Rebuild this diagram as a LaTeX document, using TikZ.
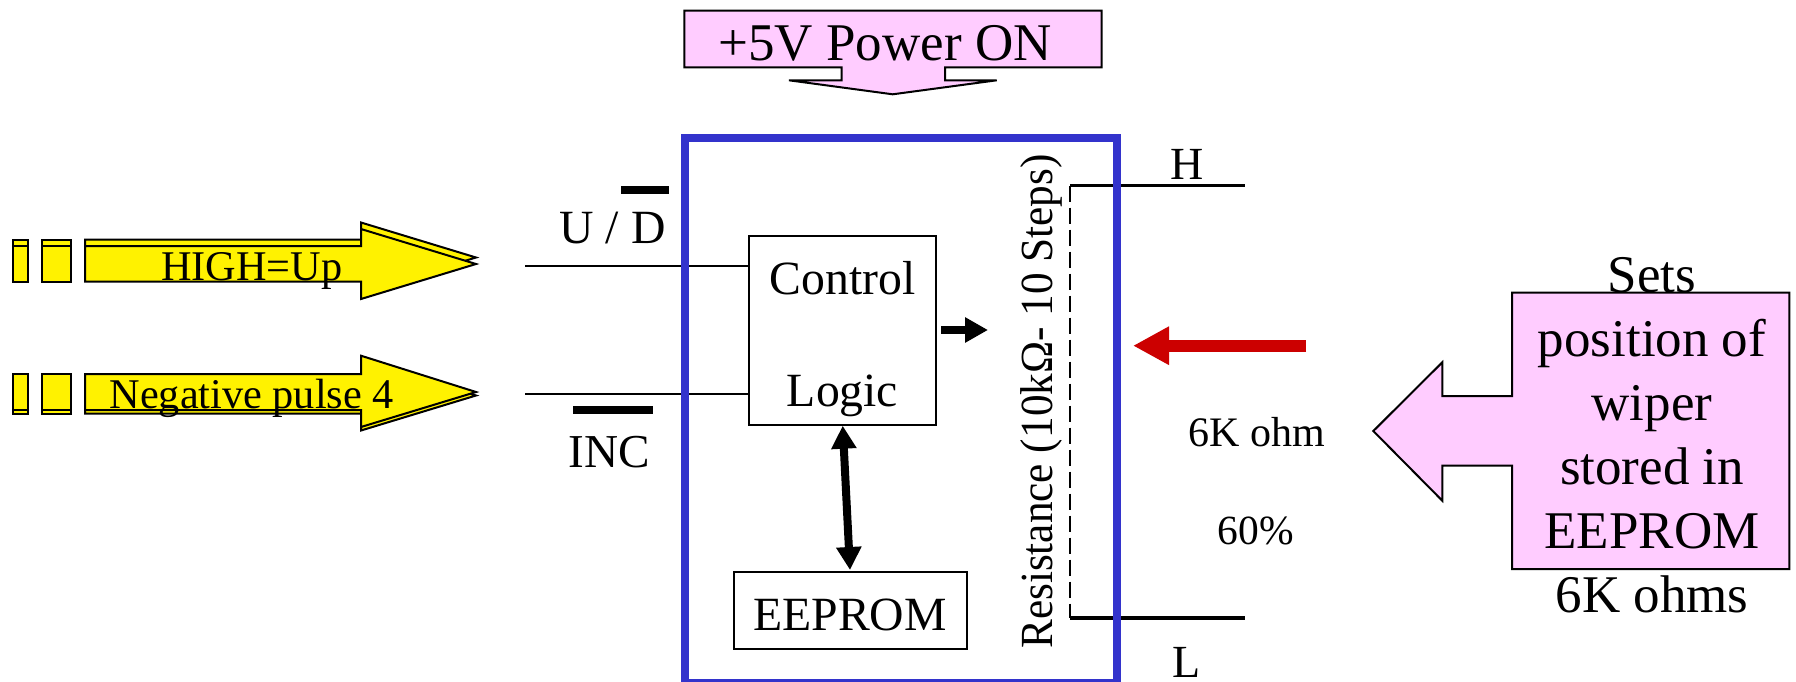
\documentclass[tikz,border=0pt]{standalone}
\usepackage{fontspec}
\setmainfont{Liberation Serif}
\usetikzlibrary{arrows.meta}
\newcommand{\fsz}[1]{\fontsize{#1}{#1}\selectfont}
\definecolor{pinkfill}{HTML}{FFCCFF}
\definecolor{bluebox}{HTML}{3333CC}
\definecolor{redarrow}{HTML}{CC0000}
\tikzset{
  txt/.style={anchor=base,inner sep=0pt,outer sep=0pt,text=black},
  yel/.style={draw=black,fill=yellow,line width=2pt,line join=miter},
  pinkshape/.style={draw=black,fill=pinkfill,line width=2pt,line join=miter},
  blockbox/.style={draw=black,line width=2pt,inner sep=0pt,outer sep=0pt,fill=white},
  wire/.style={draw=black,line width=2pt},
  heavy/.style={draw=black,line width=3.5pt},
  bar/.style={draw=black,line width=8pt},
}
\begin{document}
\begin{tikzpicture}[x=1pt,y=-1pt]
\useasboundingbox (0,0) rectangle (1796,681);
% yellow arrows: back copies
\foreach \dy/\yt/\yb/\ht/\hb/\tp in {-6.5/246/281.7/229/299/264, 3.5/374/410/355.7/427/392}{
  \path[yel] (13,\yt+\dy) rectangle (28,\yb+\dy);
  \path[yel] (42,\yt+\dy) rectangle (71,\yb+\dy);
  \path[yel] (85,\yt+\dy) -- (361,\yt+\dy) -- (361,\ht+\dy) -- (476,\tp+\dy) -- (361,\hb+\dy) -- (361,\yb+\dy) -- (85,\yb+\dy) -- cycle;
  \path[yel] (13,\yt) rectangle (28,\yb);
  \path[yel] (42,\yt) rectangle (71,\yb);
  \path[yel] (85,\yt) -- (361,\yt) -- (361,\ht) -- (476,\tp) -- (361,\hb) -- (361,\yb) -- (85,\yb) -- cycle;
}
\node[txt,font=\fsz{42.3}] (high) at (251.7,280.7) {HIGH=Up};
\node[txt,font=\fsz{42.3}] (neg) at (251.7,408) {Negative pulse 4};
% top pink callout
\path[pinkshape] (684.3,10.7) -- (1101.7,10.7) -- (1101.7,67.3) -- (945,67.3) -- (945,80.3) -- (996.7,80.3) -- (892.7,94.3) -- (789,80.3) -- (841.7,80.3) -- (841.7,67.3) -- (684.3,67.3) -- cycle;
\node[txt,font=\fsz{53}] (power) at (885,60) {+5V Power ON};
% blocks
\node[blockbox,minimum width=187pt,minimum height=188.7pt] (ctrl) at (842.5,330.3) {};
\node[blockbox,minimum width=233pt,minimum height=77.6pt,anchor=center] (eeprom) at (850.5,610.5) {};
\node[txt,font=\fsz{47.7}] (eetext) at (850,630) {EEPROM};
\node[txt,font=\fsz{47.7}] (control) at (842.5,294) {Control};
\node[txt,font=\fsz{47.7}] (logic) at (842.5,406) {Logic};
% signal lines
\coordinate (ud) at (525,266);
\coordinate (inc) at (525,394);
\draw[wire] (ud) -- (ud -| ctrl.west);
\draw[wire] (inc) -- (inc -| ctrl.west);
\coordinate (barDa) at (621,190); \coordinate (barDb) at (669,190);
\draw[bar] (barDa) -- (barDb);
\coordinate (barIa) at (573,410); \coordinate (barIb) at (653,410);
\draw[bar] (barIa) -- (barIb);
\node[txt,font=\fsz{47.7}] (udt) at (612.5,243) {U / D};
\node[txt,font=\fsz{47.2}] (inct) at (609,467) {INC};
% control out arrow
\coordinate (outa) at (941,330); \coordinate (outb) at (988,330);
\draw[line width=8pt,-{Triangle[width=24pt,length=23pt]}] (outa) -- (outb);
% control-eeprom arrow
\coordinate (dbla) at (842.7,425.7); \coordinate (dblb) at (850,570);
\draw[line width=8pt,{Triangle[width=24pt,length=23pt]}-{Triangle[width=24pt,length=23pt]}] (dbla) -- (dblb);
% resistor wires
\coordinate (ha) at (1070,185.6); \coordinate (hb) at (1245,185.6);
\coordinate (la) at (1070,618); \coordinate (lb) at (1245,618);
\draw[heavy] (ha) -- (hb);
\draw[heavy] (la) -- (lb);
\draw[wire,dash pattern=on 16pt off 6pt] (ha) -- (la);
\node[txt,font=\fsz{46}] (H) at (1187,179.8) {H};
\node[txt,font=\fsz{46}] (L) at (1187,677) {L};
\node[txt,font=\fsz{46},rotate=90] (res) at (1052,401.5) {\scalebox{0.94}[1]{Resistance (10kΩ- 10 Steps)}};
% blue package
\draw[bluebox,line width=8pt,line join=miter] (685,138) rectangle (1117,683);
% red arrow
\coordinate (reda) at (1306,345.7); \coordinate (redb) at (1133,345.7);
\draw[redarrow,line width=11.9pt,-{Triangle[width=36pt,length=36pt]}] (reda) -- (redb);
\node[txt,font=\fsz{42}] (sixk) at (1257,446) {6K ohm};
\node[txt,font=\fsz{41.5}] (sixty) at (1256,544.5) {60\%};
% right pink callout
\path[pinkshape] (1789.3,292.7) -- (1789.3,569) -- (1512,569) -- (1512,465.7) -- (1442.3,465.7) -- (1442.3,500.7) -- (1373.3,431) -- (1442.3,362.3) -- (1442.3,396) -- (1512,396) -- (1512,292.7) -- cycle;
\node[txt,font=\fsz{53}] (l1) at (1652,292) {Sets};
\node[txt,font=\fsz{53}] (l2) at (1652,356) {position of};
\node[txt,font=\fsz{53}] (l3) at (1652,420) {wiper};
\node[txt,font=\fsz{53}] (l4) at (1652,484) {stored in};
\node[txt,font=\fsz{53}] (l5) at (1652,548) {EEPROM};
\node[txt,font=\fsz{53}] (l6) at (1652,612) {6K ohms};
\end{tikzpicture}
\end{document}
